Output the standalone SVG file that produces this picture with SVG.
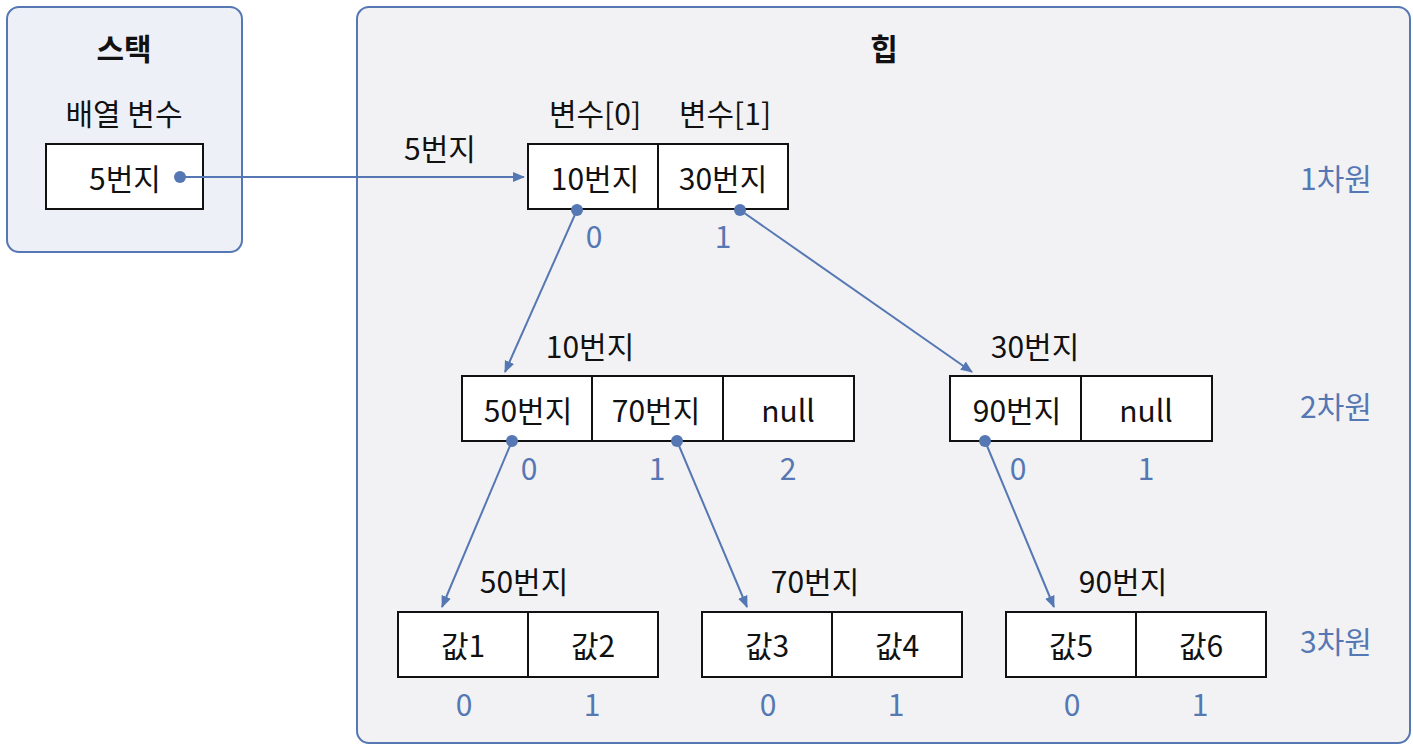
<svg xmlns="http://www.w3.org/2000/svg" width="1413" height="745" viewBox="0 0 1413 745">
<defs>
<marker id="ah" markerWidth="12" markerHeight="10" refX="11" refY="5" orient="auto" markerUnits="userSpaceOnUse"><path d="M0,0 L12,5 L0,10 Z" fill="#5577b3"/></marker>
<style>
text{font-family:"Noto Sans CJK KR","Noto Sans",sans-serif;font-size:30px;fill:#111;text-anchor:middle}
.b{font-weight:bold}
.i{fill:#5577b3}
.c{fill:#fff;stroke:#111;stroke-width:2}
.l{stroke:#5577b3;stroke-width:2;fill:none;marker-end:url(#ah)}
.d{fill:#5577b3}
</style>
</defs>
<g id="stack">
<rect x="7" y="7" width="235" height="245" rx="12" fill="#eef0f8" stroke="#5577b3" stroke-width="2"/>
<text x="124" y="60" class="b">스택</text>
<text x="124" y="125">배열 변수</text>
<rect class="c" x="46" y="144" width="157" height="65"/>
<text x="125" y="190">5번지</text>
</g>
<g id="heap">
<rect x="357" y="7" width="1053" height="736" rx="12" fill="#f2f2f4" stroke="#5577b3" stroke-width="2"/>
<text x="884" y="60" class="b">힙</text>
<text x="1336" y="190" class="i">1차원</text>
<text x="1336" y="418" class="i">2차원</text>
<text x="1336" y="653" class="i">3차원</text>
</g>
<g id="dim1">
<text x="595" y="125">변수[0]</text><text x="725" y="125">변수[1]</text>
<text x="440" y="160">5번지</text>
<rect class="c" x="528" y="144" width="130" height="65"/><rect class="c" x="658" y="144" width="130" height="65"/>
<text x="595" y="190">10번지</text><text x="723" y="190">30번지</text>
<text x="594" y="248" class="i">0</text><text x="723" y="248" class="i">1</text>
</g>
<g id="dim2a">
<text x="590" y="358">10번지</text>
<rect class="c" x="462" y="376" width="130" height="65"/><rect class="c" x="592" y="376" width="131" height="65"/><rect class="c" x="723" y="376" width="131" height="65"/>
<text x="528" y="422">50번지</text><text x="656" y="422">70번지</text><text x="788" y="422">null</text>
<text x="529" y="480" class="i">0</text><text x="657" y="480" class="i">1</text><text x="788" y="480" class="i">2</text>
</g>
<g id="dim2b">
<text x="1035" y="358">30번지</text>
<rect class="c" x="950" y="376" width="131" height="65"/><rect class="c" x="1081" y="376" width="131" height="65"/>
<text x="1017" y="422">90번지</text><text x="1146" y="422">null</text>
<text x="1018" y="480" class="i">0</text><text x="1146" y="480" class="i">1</text>
</g>
<g id="dim3a">
<text x="524" y="593">50번지</text>
<rect class="c" x="398" y="612" width="130" height="65"/><rect class="c" x="528" y="612" width="130" height="65"/>
<text x="463" y="657">값1</text><text x="593" y="657">값2</text>
<text x="464" y="716" class="i">0</text><text x="592" y="716" class="i">1</text>
</g>
<g id="dim3b">
<text x="815" y="593">70번지</text>
<rect class="c" x="702" y="612" width="130" height="65"/><rect class="c" x="832" y="612" width="130" height="65"/>
<text x="767" y="657">값3</text><text x="897" y="657">값4</text>
<text x="768" y="716" class="i">0</text><text x="896" y="716" class="i">1</text>
</g>
<g id="dim3c">
<text x="1123" y="593">90번지</text>
<rect class="c" x="1006" y="612" width="130" height="65"/><rect class="c" x="1136" y="612" width="130" height="65"/>
<text x="1071" y="657">값5</text><text x="1201" y="657">값6</text>
<text x="1072" y="716" class="i">0</text><text x="1200" y="716" class="i">1</text>
</g>
<g id="connectors">
<path class="l" d="M180,177 L524,177"/>
<path class="l" d="M577,210 L505,372"/>
<path class="l" d="M740,210 L972,372"/>
<path class="l" d="M512,441 L442,607"/>
<path class="l" d="M677,441 L747,607"/>
<path class="l" d="M985,441 L1054,607"/>
<circle class="d" cx="180" cy="177" r="6"/><circle class="d" cx="577" cy="210" r="6"/><circle class="d" cx="740" cy="210" r="6"/>
<circle class="d" cx="512" cy="441" r="6"/><circle class="d" cx="677" cy="441" r="6"/><circle class="d" cx="985" cy="441" r="6"/>
</g>
</svg>
